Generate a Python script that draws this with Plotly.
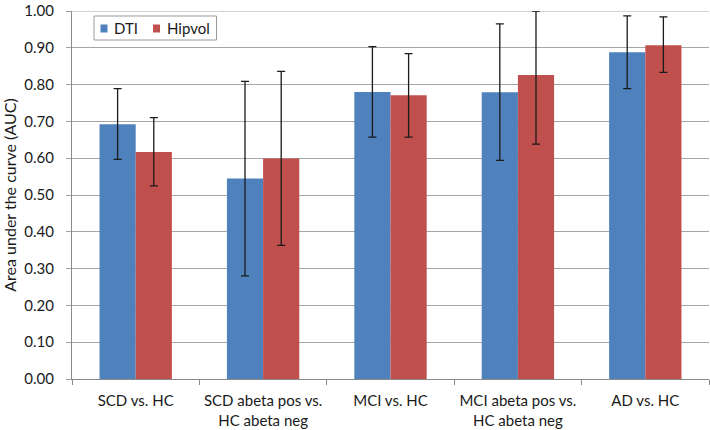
import plotly.graph_objects as go

categories = ["SCD vs. HC", "SCD abeta pos vs.<br>HC abeta neg", "MCI vs. HC",
              "MCI abeta pos vs.<br>HC abeta neg", "AD vs. HC"]
dti_auc = [0.692, 0.545, 0.780, 0.779, 0.888]
dti_upper = [0.789, 0.809, 0.903, 0.965, 0.987]
dti_lower = [0.597, 0.280, 0.657, 0.594, 0.789]
hip_auc = [0.617, 0.599, 0.771, 0.826, 0.907]
hip_upper = [0.710, 0.836, 0.884, 1.000, 0.984]
hip_lower = [0.525, 0.363, 0.657, 0.638, 0.833]
y_ticks = [0.0, 0.1, 0.2, 0.3, 0.4, 0.5, 0.6, 0.7, 0.8, 0.9, 1.0]
series_names = ["DTI", "Hipvol"]
series_colors = ["#4F81BD", "#C0504D"]

FONT = "Lato, 'Open Sans', sans-serif"
W, H = 710, 430
ML, MR, MT, MB = 72, 1, 11, 51
PW, PH = W - ML - MR, H - MT - MB


def px_x(x):
    return (x - ML) / PW


def px_y(y):
    return (H - MB - y) / PH


def err(vals, up, lo):
    return dict(type="data", symmetric=False,
                array=[u - v for u, v in zip(up, vals)],
                arrayminus=[v - l for v, l in zip(vals, lo)],
                color="#1a1a1a", thickness=1.3, width=4)


fig = go.Figure()
fig.add_trace(go.Bar(name=series_names[0], x=categories, y=dti_auc,
                     marker=dict(color=series_colors[0], line=dict(width=0)),
                     error_y=err(dti_auc, dti_upper, dti_lower)))
fig.add_trace(go.Bar(name=series_names[1], x=categories, y=hip_auc,
                     marker=dict(color=series_colors[1], line=dict(width=0)),
                     error_y=err(hip_auc, hip_upper, hip_lower)))

# manual compact legend (Excel-style)
shapes = [dict(type="rect", xref="paper", yref="paper",
               x0=px_x(94), x1=px_x(216.5), y0=px_y(40), y1=px_y(16),
               line=dict(color="#9a9a9a", width=1), fillcolor="white", layer="above")]
annotations = []
legend_sq_x = [100.5, 153]
legend_tx_x = [111.5, 164.5]
for i, name in enumerate(series_names):
    shapes.append(dict(type="rect", xref="paper", yref="paper",
                       x0=px_x(legend_sq_x[i]), x1=px_x(legend_sq_x[i] + 7),
                       y0=px_y(32.5), y1=px_y(24.5),
                       line=dict(width=0), fillcolor=series_colors[i], layer="above"))
    annotations.append(dict(xref="paper", yref="paper", x=px_x(legend_tx_x[i]), y=px_y(28.5),
                            xanchor="left", yanchor="middle", text=name, showarrow=False,
                            font=dict(size=15, color="#1a1a1a")))

fig.update_layout(
    width=W, height=H,
    margin=dict(l=ML, r=MR, t=MT, b=MB),
    paper_bgcolor="white", plot_bgcolor="white",
    barmode="group", bargap=0.432, bargroupgap=0,
    font=dict(family=FONT, size=15, color="#1a1a1a"),
    showlegend=False,
    shapes=shapes, annotations=annotations,
)
fig.update_xaxes(
    type="category", tickson="boundaries", ticks="outside", ticklen=5,
    tickcolor="#8a8a8a", showline=True, linecolor="#8a8a8a", linewidth=1,
    showgrid=False, tickfont=dict(size=15), automargin=False,
    ticklabelstandoff=8,
)
fig.update_yaxes(
    range=[0, 1], tickmode="array", tickvals=y_ticks, tickformat=".2f",
    ticks="outside", ticklen=5, ticklabeloverflow="allow",
    tickcolor="#a0a0a0", showline=True, linecolor="#8a8a8a", linewidth=1,
    showgrid=True, gridcolor="#a6a6a6", gridwidth=1, zeroline=False,
    ticklabelstandoff=9, tickfont=dict(size=15), automargin=False,
    title=dict(text="Area under the curve (AUC)", font=dict(size=16), standoff=12),
)
# top border gridline at 1.00 (drawn as in the reference)
fig.add_shape(type="line", xref="paper", yref="y", x0=0, x1=1, y0=y_ticks[-1], y1=y_ticks[-1],
              line=dict(color="#a6a6a6", width=1), layer="below")

fig.write_html("out.html",
               config={"displayModeBar": False},
               post_script="document.body.style.margin='0';document.body.style.padding='0';"
                           "document.body.style.overflow='hidden';")
